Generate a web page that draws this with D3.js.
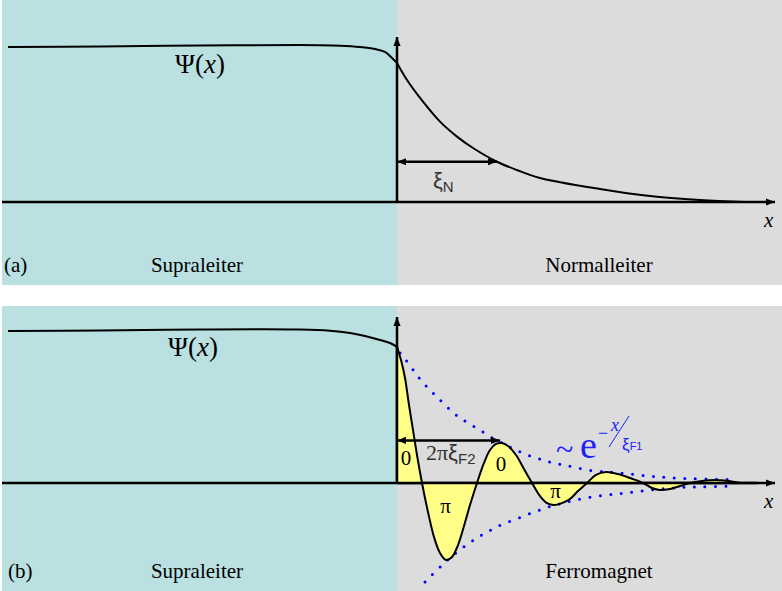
<!DOCTYPE html>
<html>
<head>
<meta charset="utf-8">
<script src="https://cdn.jsdelivr.net/npm/d3@7"></script>
<style>
  html, body { margin: 0; padding: 0; background: #fff; }
  svg { display: block; }
</style>
</head>
<body>
<svg id="chart" width="782" height="591"></svg>
<script>
// Order parameter Ψ(x) at a superconductor / normal-metal interface (a)
// and at a superconductor / ferromagnet interface (b).
// Positions x are in units of ξ (junction at x = 0); Ψ is normalised to the bulk value.

const regionNames = ["Supraleiter", "Normalleiter", "Supraleiter", "Ferromagnet"];
const panelTags = ["(a)", "(b)"];

// (a) superconducting side and normal-metal side
const psiSupraA = [[-3.89,0.994],[-2.97,0.997],[-1.97,1.003],[-0.97,1.006],[-0.57,1.002],
  [-0.37,0.994],[-0.22,0.981],[-0.12,0.962],[-0.06,0.929],[0,0.891]];
const psiNormal = [[0,0.891],[0.10,0.782],[0.26,0.643],[0.43,0.515],[0.60,0.419],[0.76,0.346],
  [1.00,0.258],[1.20,0.205],[1.43,0.154],[2.03,0.083],[2.53,0.038],[3.03,0.013],[3.48,0]];

// (b) superconducting side and damped oscillation in the ferromagnet
const psiSupraB = [[-3.89,1.0],[-2.97,1.003],[-1.97,1.01],[-0.97,1.01],[-0.67,1.002],
  [-0.47,0.987],[-0.32,0.967],[-0.17,0.941],[-0.07,0.921],[0,0.895]];
const psiFerro = [[0,0.895],[0.04,0.809],[0.08,0.691],[0.12,0.513],[0.16,0.349],[0.20,0.184],
  [0.25,0],[0.31,-0.191],[0.37,-0.355],[0.43,-0.461],[0.49,-0.507],[0.55,-0.487],[0.61,-0.408],
  [0.67,-0.283],[0.73,-0.145],[0.80,0],[0.87,0.132],[0.93,0.217],[0.99,0.257],[1.05,0.263],
  [1.11,0.243],[1.19,0.184],[1.27,0.092],[1.35,0],[1.43,-0.086],[1.50,-0.132],[1.57,-0.145],
  [1.65,-0.132],[1.73,-0.105],[1.81,-0.053],[1.90,0],[1.99,0.053],[2.09,0.072],[2.21,0.059],
  [2.33,0.033],[2.46,0],[2.55,-0.033],[2.63,-0.046],[2.73,-0.039],[2.83,-0.02],[2.93,0],
  [3.05,0.013],[3.18,0.02],[3.31,0.013],[3.43,0]];

// envelope ~ exp(-x/ξF1), upper and lower branch
const envUpper = [[0.03,0.855],[0.13,0.776],[0.21,0.697],[0.30,0.632],[0.40,0.566],[0.50,0.5],
  [0.61,0.434],[0.71,0.395],[0.83,0.349],[0.93,0.303],[1.03,0.27],[1.13,0.237],[1.23,0.204],
  [1.35,0.171],[1.46,0.151],[1.56,0.132],[1.68,0.118],[1.80,0.099],[1.96,0.079],[2.10,0.072],
  [2.23,0.066],[2.41,0.053],[2.56,0.043],[2.73,0.033],[3.03,0.026],[3.38,0.023]];
const envLower = [[0.28,-0.651],[0.40,-0.572],[0.50,-0.51],[0.60,-0.452],[0.71,-0.401],
  [0.81,-0.355],[0.92,-0.316],[1.03,-0.276],[1.25,-0.222],[1.45,-0.171],[1.56,-0.148],
  [1.66,-0.132],[1.86,-0.099],[2.10,-0.079],[2.30,-0.064],[2.53,-0.046],[2.73,-0.033],
  [2.93,-0.026],[3.13,-0.024],[3.38,-0.02]];

// phase of the lobes
const phaseLabels = [
  {text: "0", x: 0.09, psi: 0.118},
  {text: "π", x: 0.485, psi: -0.197},
  {text: "0", x: 1.04, psi: 0.079},
  {text: "π", x: 1.585, psi: -0.099}
];

// length markers (in units of ξ)
const lengthN = [0, 1.0];
const lengthF2 = [0, 1.03];

const svg = d3.select("#chart");
const SERIF = "'Liberation Serif','Times New Roman',serif";
const SANS = "'Liberation Sans',Arial,sans-serif";

const x = d3.scaleLinear().domain([-3.95, 3.78]).range([2, 775]);
const yA = d3.scaleLinear().domain([0, 1]).range([202, 46]);
const yB = d3.scaleLinear().domain([0, 1]).range([483, 331]);

const defs = svg.append("defs");
function marker(id, orient) {
  defs.append("marker")
    .attr("id", id).attr("viewBox", "0 0 10 10")
    .attr("refX", 10).attr("refY", 5)
    .attr("markerUnits", "userSpaceOnUse")
    .attr("markerWidth", 9).attr("markerHeight", 9)
    .attr("orient", orient)
    .append("path").attr("d", "M0,1 L10,5 L0,9 Z").attr("fill", "#000");
}
marker("head", "auto");
marker("headBoth", "auto-start-reverse");

const panels = [
  {tag: panelTags[0], top: 0, bottom: 285, left: regionNames[0], right: regionNames[1]},
  {tag: panelTags[1], top: 306, bottom: 591, left: regionNames[2], right: regionNames[3]}
];

panels.forEach(p => {
  const g = svg.append("g");
  g.append("rect").attr("x", 2).attr("y", p.top).attr("width", x(0) - 2).attr("height", p.bottom - p.top)
    .attr("fill", "#bae0e2");
  g.append("rect").attr("x", x(0)).attr("y", p.top).attr("width", 782 - x(0)).attr("height", p.bottom - p.top)
    .attr("fill", "#dcdcdc");

  // labels at the bottom of the panel
  const base = p.bottom - 13;
  g.append("text").attr("x", p.top === 0 ? 4 : 8).attr("y", base)
    .attr("font-family", SERIF).attr("font-size", 21).text(p.tag);
  g.append("text").attr("x", 197).attr("y", base).attr("text-anchor", "middle")
    .attr("font-family", SERIF).attr("font-size", 21).text(p.left);
  g.append("text").attr("x", 599).attr("y", base).attr("text-anchor", "middle")
    .attr("font-family", SERIF).attr("font-size", 21).text(p.right);
});

const lineA = d3.line().x(d => x(d[0])).y(d => yA(d[1])).curve(d3.curveCatmullRom);
const lineB = d3.line().x(d => x(d[0])).y(d => yB(d[1])).curve(d3.curveCatmullRom);

function axes(yS, tip) {
  svg.append("line").attr("x1", 2).attr("x2", x(3.78)).attr("y1", yS(0)).attr("y2", yS(0))
    .attr("stroke", "#000").attr("stroke-width", 2.5).attr("marker-end", "url(#head)");
  svg.append("line").attr("x1", x(0)).attr("x2", x(0)).attr("y1", yS(0)).attr("y2", tip)
    .attr("stroke", "#000").attr("stroke-width", 2.5).attr("marker-end", "url(#head)");
  svg.append("text").attr("x", 764).attr("y", yS(0) + 25)
    .attr("font-family", SERIF).attr("font-size", 21).attr("font-style", "italic").text("x");
}

function psiLabel(px, py) {
  const t = svg.append("text").attr("x", px).attr("y", py)
    .attr("font-family", SERIF).attr("font-size", 27);
  t.append("tspan").text("Ψ(");
  t.append("tspan").attr("font-style", "italic").text("x");
  t.append("tspan").text(")");
}

// ---------- panel (a) ----------
axes(yA, 37);
svg.append("path").attr("d", lineA(psiSupraA) + lineA(psiNormal))
  .attr("fill", "none").attr("stroke", "#000").attr("stroke-width", 2);
psiLabel(175, 73);

// ξN double arrow
const yArrA = yA(0.258);
svg.append("line").attr("x1", x(lengthN[0])).attr("x2", x(lengthN[1])).attr("y1", yArrA).attr("y2", yArrA)
  .attr("stroke", "#000").attr("stroke-width", 2.5)
  .attr("marker-start", "url(#headBoth)").attr("marker-end", "url(#headBoth)");
const xiN = svg.append("text").attr("x", 433).attr("y", 188).attr("fill", "#333")
  .attr("font-family", SANS).attr("font-size", 22);
xiN.append("tspan").text("ξ");
xiN.append("tspan").attr("font-size", 15).attr("dy", 4).text("N");

// ---------- panel (b) ----------
axes(yB, 317);

const area = d3.area().x(d => x(d[0])).y0(yB(0)).y1(d => yB(d[1])).curve(d3.curveCatmullRom);
svg.append("path").attr("d", area(psiFerro)).attr("fill", "#ffff88");

// axes again on top of the filled lobes
svg.append("line").attr("x1", x(0)).attr("x2", x(3.6)).attr("y1", yB(0)).attr("y2", yB(0))
  .attr("stroke", "#000").attr("stroke-width", 2.5);
svg.append("line").attr("x1", x(0)).attr("x2", x(0)).attr("y1", yB(0)).attr("y2", yB(0.9))
  .attr("stroke", "#000").attr("stroke-width", 2.5);

const envLine = d3.line().x(d => x(d[0])).y(d => yB(d[1])).curve(d3.curveBasis);
[envUpper, envLower].forEach(env => {
  svg.append("path").attr("d", envLine(env)).attr("fill", "none")
    .attr("stroke", "#0000ff").attr("stroke-width", 3).attr("stroke-linecap", "round")
    .attr("stroke-dasharray", "0 10.5");
});

svg.append("path").attr("d", lineB(psiSupraB) + lineB(psiFerro))
  .attr("fill", "none").attr("stroke", "#000").attr("stroke-width", 2);
psiLabel(168, 356);

svg.selectAll("text.phase").data(phaseLabels).enter().append("text")
  .attr("class", "phase")
  .attr("x", d => x(d.x)).attr("y", d => yB(d.psi))
  .attr("text-anchor", "middle")
  .attr("font-family", SERIF).attr("font-size", 21)
  .text(d => d.text);

// 2πξF2 double arrow
const yArrB = yB(0.28);
svg.append("line").attr("x1", x(lengthF2[0])).attr("x2", x(lengthF2[1])).attr("y1", yArrB).attr("y2", yArrB)
  .attr("stroke", "#000").attr("stroke-width", 2.5)
  .attr("marker-start", "url(#headBoth)").attr("marker-end", "url(#headBoth)");
const xiF2 = svg.append("text").attr("x", 426).attr("y", 460).attr("fill", "#333")
  .attr("font-family", SERIF).attr("font-size", 22);
xiF2.append("tspan").text("2π");
xiF2.append("tspan").attr("font-family", SANS).text("ξ");
xiF2.append("tspan").attr("font-family", SANS).attr("font-size", 15).attr("dy", 4).text("F2");

// envelope formula  ~ e^(−x/ξF1)
const blue = "#2020ff";
svg.append("text").attr("x", 556).attr("y", 460).attr("fill", blue)
  .attr("font-family", SERIF).attr("font-size", 32).text("~");
svg.append("text").attr("x", 580).attr("y", 458).attr("fill", blue)
  .attr("font-family", SERIF).attr("font-size", 38).text("e");
svg.append("text").attr("x", 598).attr("y", 439).attr("fill", blue)
  .attr("font-family", SERIF).attr("font-size", 18).text("−");
svg.append("text").attr("x", 611).attr("y", 431).attr("fill", blue)
  .attr("font-family", SERIF).attr("font-size", 18).attr("font-style", "italic").text("x");
svg.append("line").attr("x1", 629).attr("y1", 416).attr("x2", 609).attr("y2", 447)
  .attr("stroke", blue).attr("stroke-width", 1);
const xiF1 = svg.append("text").attr("x", 622).attr("y", 450).attr("fill", blue)
  .attr("font-family", SANS).attr("font-size", 17);
xiF1.append("tspan").text("ξ");
xiF1.append("tspan").attr("font-size", 11).text("F1");
</script>
</body>
</html>
